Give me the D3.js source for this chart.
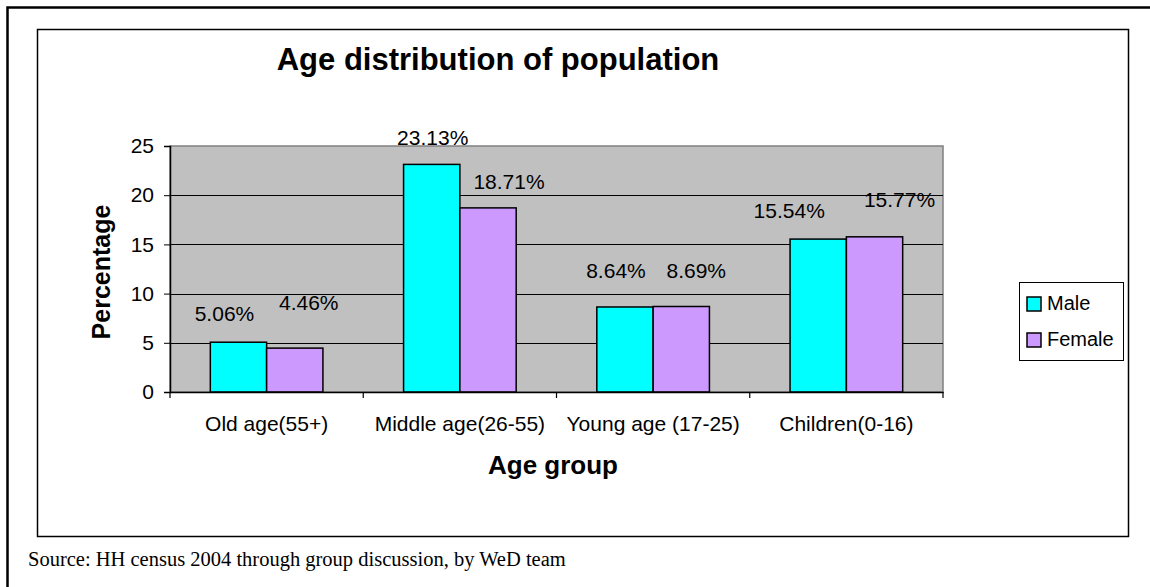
<!DOCTYPE html>
<html>
<head>
<meta charset="utf-8">
<script src="https://cdn.jsdelivr.net/npm/d3@7"></script>
<style>
  body { margin: 0; background: #fff; }
  svg { display: block; font-family: "Liberation Sans", Arial, sans-serif; }
</style>
</head>
<body>
<script>
// chart data
const categories = ["Old age(55+)", "Middle age(26-55)", "Young age (17-25)", "Children(0-16)"];
const seriesNames = ["Male", "Female"];
const maleValues = [5.06, 23.13, 8.64, 15.54];
const femaleValues = [4.46, 18.71, 8.69, 15.77];
const yTickValues = [0, 5, 10, 15, 20, 25];
const seriesColors = ["#00ffff", "#cc99ff"];

// hand placed data labels in the original, offsets from bar top centre [dx, dy]
const labelNudge = [
    [[-14, -21], [14, -38]],
    [[1, -19], [21, -19]],
    [[-9, -29], [15, -28]],
    [[-29, -21], [25, -30]]
];

const width = 1150, height = 587;
const plot = { left: 170, right: 943, top: 146, bottom: 392 };

const svg = d3.select('body')
    .append('svg')
    .attr('width', width)
    .attr('height', height);

// outer frame and chart frame
svg.append('rect')
    .attr('x', 7.5).attr('y', 7.5)
    .attr('width', 1160).attr('height', 600)
    .attr('fill', 'none').attr('stroke', '#000').attr('stroke-width', 2.5);

svg.append('rect')
    .attr('x', 37.5).attr('y', 29.5)
    .attr('width', 1091).attr('height', 507)
    .attr('fill', '#fff').attr('stroke', '#000').attr('stroke-width', 1.5);

const x0 = d3.scaleBand()
    .domain(categories)
    .range([plot.left, plot.right])
    .padding(0);

const x1 = d3.scaleBand()
    .domain(seriesNames)
    .range([0, x0.bandwidth()])
    .paddingInner(0)
    .paddingOuter(0.716);

const y = d3.scaleLinear()
    .domain([0, 25])
    .range([plot.bottom, plot.top]);

// plot area
svg.append('rect')
    .attr('x', plot.left).attr('y', plot.top)
    .attr('width', plot.right - plot.left).attr('height', plot.bottom - plot.top)
    .attr('fill', '#c0c0c0').attr('stroke', '#808080').attr('stroke-width', 1.5);

// gridlines
svg.selectAll('.grid')
    .data(yTickValues.filter(v => v > 0 && v < 25))
    .enter()
    .append('line')
    .attr('x1', plot.left).attr('x2', plot.right)
    .attr('y1', d => Math.round(y(d)) + 0.5).attr('y2', d => Math.round(y(d)) + 0.5)
    .attr('stroke', '#000').attr('stroke-width', 1);

// bars
const rows = categories.map((c, i) => ({
    category: c,
    values: [maleValues[i], femaleValues[i]]
}));

const groups = svg.selectAll('.group')
    .data(rows)
    .enter()
    .append('g')
    .attr('transform', d => `translate(${x0(d.category)},0)`);

groups.selectAll('rect')
    .data(d => d.values.map((v, j) => ({ name: seriesNames[j], value: v, j: j })))
    .enter()
    .append('rect')
    .attr('x', d => x1(d.name))
    .attr('y', d => y(d.value))
    .attr('width', x1.bandwidth())
    .attr('height', d => y(0) - y(d.value))
    .attr('fill', d => seriesColors[d.j])
    .attr('stroke', '#000')
    .attr('stroke-width', 1.5);

// data labels
groups.each(function(d, i) {
    d3.select(this).selectAll('.lbl')
        .data(d.values.map((v, j) => ({ name: seriesNames[j], value: v, j: j })))
        .enter()
        .append('text')
        .attr('x', e => x1(e.name) + x1.bandwidth() / 2 + labelNudge[i][e.j][0])
        .attr('y', e => y(e.value) + labelNudge[i][e.j][1])
        .attr('text-anchor', 'middle')
        .style('font-size', '21px')
        .attr('fill', '#000')
        .text(e => e.value.toFixed(2) + '%');
});

// y axis
const yAxis = svg.append('g')
    .attr('transform', `translate(${plot.left},0)`)
    .call(d3.axisLeft(y).tickValues(yTickValues).tickSize(6).tickPadding(10));
yAxis.select('.domain').attr('stroke', '#000').attr('stroke-width', 1.5);
yAxis.selectAll('text').style('font-size', '21px').style('font-family', '"Liberation Sans", Arial, sans-serif').attr('fill', '#000');

// x axis: ticks on category boundaries, labels in the middle
const xAxis = svg.append('g')
    .attr('transform', `translate(0,${plot.bottom})`)
    .call(d3.axisBottom(x0).tickSize(0).tickPadding(24));
xAxis.select('.domain').attr('stroke', '#000').attr('stroke-width', 1.5);
xAxis.selectAll('text').style('font-size', '21px').style('font-family', '"Liberation Sans", Arial, sans-serif').attr('fill', '#000');

xAxis.selectAll('.bound')
    .data(categories.map(c => x0(c)).concat([x0.range()[1]]))
    .enter()
    .append('line')
    .attr('x1', d => d).attr('x2', d => d)
    .attr('y1', 0).attr('y2', 6)
    .attr('stroke', '#000').attr('stroke-width', 1.2);

// titles
svg.append('text')
    .attr('x', 498).attr('y', 70)
    .attr('text-anchor', 'middle')
    .style('font-size', '31px').style('font-weight', 'bold')
    .text('Age distribution of population');

svg.append('text')
    .attr('x', 553).attr('y', 474)
    .attr('text-anchor', 'middle')
    .style('font-size', '26px').style('font-weight', 'bold')
    .text('Age group');

svg.append('text')
    .attr('transform', 'rotate(-90)')
    .attr('x', -272).attr('y', 110)
    .attr('text-anchor', 'middle')
    .style('font-size', '25px').style('font-weight', 'bold')
    .text('Percentage');

// legend
const legend = svg.append('g').attr('transform', 'translate(1019,282)');
legend.append('rect')
    .attr('x', 0.5).attr('y', 0.5)
    .attr('width', 104).attr('height', 78)
    .attr('fill', '#fff').attr('stroke', '#000').attr('stroke-width', 1);

legend.selectAll('.key')
    .data(seriesNames)
    .enter()
    .append('rect')
    .attr('x', 8).attr('y', (d, i) => 15 + i * 36)
    .attr('width', 14).attr('height', 14)
    .attr('fill', (d, i) => seriesColors[i])
    .attr('stroke', '#000').attr('stroke-width', 1.5);

legend.selectAll('.name')
    .data(seriesNames)
    .enter()
    .append('text')
    .attr('x', 28).attr('y', (d, i) => 28 + i * 36)
    .style('font-size', '20px')
    .text(d => d);

// source note
svg.append('text')
    .attr('x', 28).attr('y', 566)
    .style('font-family', '"Liberation Serif", "Times New Roman", serif')
    .style('font-size', '20.5px')
    .text('Source: HH census 2004 through group discussion, by WeD team');
</script>
</body>
</html>
